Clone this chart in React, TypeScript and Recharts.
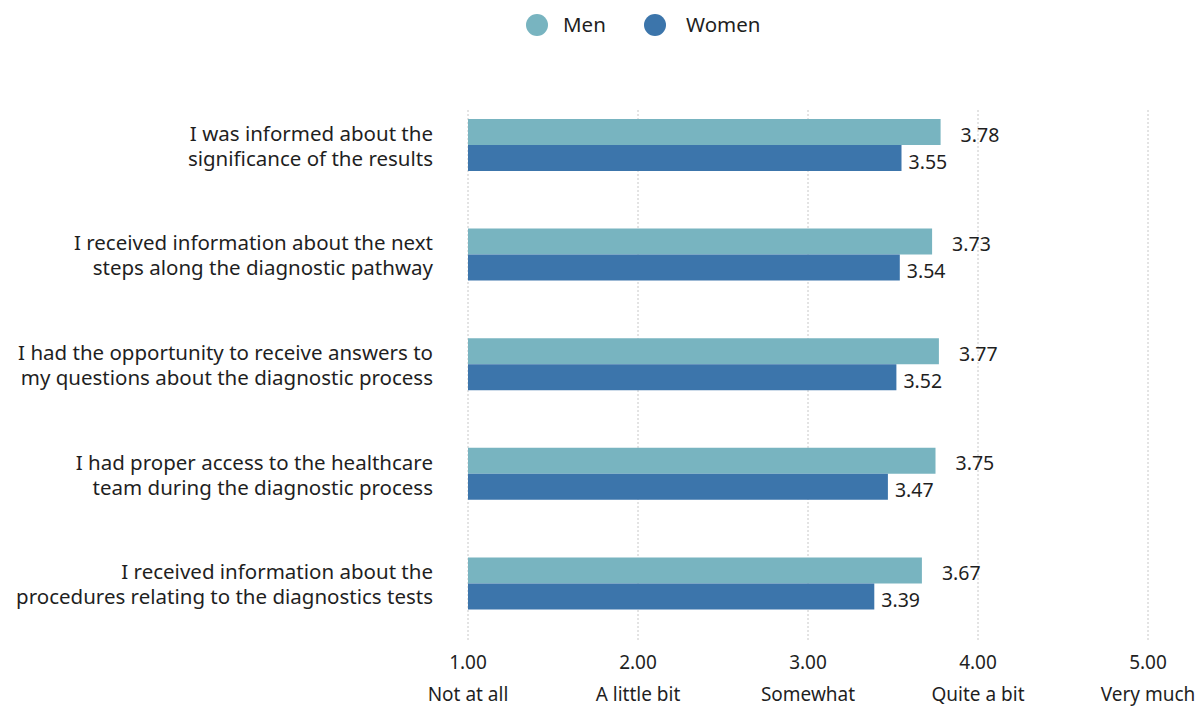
import { BarChart, Bar, XAxis, YAxis, CartesianGrid, Legend, LabelList } from 'recharts';

const questions = [
  ['I was informed about the', 'significance of the results'],
  ['I received information about the next', 'steps along the diagnostic pathway'],
  ['I had the opportunity to receive answers to', 'my questions about the diagnostic process'],
  ['I had proper access to the healthcare', 'team during the diagnostic process'],
  ['I received information about the', 'procedures relating to the diagnostics tests'],
];
const men = [3.78, 3.73, 3.77, 3.75, 3.67];
const women = [3.55, 3.54, 3.52, 3.47, 3.39];
const scaleTicks = [1, 2, 3, 4, 5];
const scaleLabels = ['Not at all', 'A little bit', 'Somewhat', 'Quite a bit', 'Very much'];

const MEN_COLOR = '#78b4c0';
const WOMEN_COLOR = '#3c75ab';
const FONT = '"Noto Sans", sans-serif';
const TEXT = '#1f1f1f';

const data = questions.map((q, i) => ({
  name: q.join('|'),
  men: men[i],
  women: women[i],
}));

const QuestionTick = (props: any) => {
  const { x, y, payload } = props;
  const lines = String(payload.value).split('|');
  return (
    <text x={x} y={y} textAnchor="end" fontFamily={FONT} fontSize={20.5} fill={TEXT}>
      <tspan x={x} dy={-4}>{lines[0]}</tspan>
      <tspan x={x} dy={25}>{lines[1]}</tspan>
    </text>
  );
};

const ScaleTick = (props: any) => {
  const { x, y, payload } = props;
  const idx = scaleTicks.indexOf(payload.value);
  return (
    <g>
      <text x={x} y={y + 31} textAnchor="middle" fontFamily={FONT} fontSize={19} fill={TEXT}>
        {Number(payload.value).toFixed(2)}
      </text>
      <text x={x} y={y + 63} textAnchor="middle" fontFamily={FONT} fontSize={19} fill={TEXT}>
        {scaleLabels[idx]}
      </text>
    </g>
  );
};

// value label drawn a touch below the bar centre, as in the source
const valueLabel = (offset: number, shift: number) => (props: any) => {
  const { x, y, width, height, value } = props;
  return (
    <text
      x={x + width + offset}
      y={y + height / 2 + shift}
      dominantBaseline="central"
      fontFamily={FONT}
      fontSize={19.5}
      fill={TEXT}
    >
      {Number(value).toFixed(2)}
    </text>
  );
};

const LegendContent = () => (
  <svg width={1196} height={50}>
    <circle cx={537} cy={25} r={11} fill={MEN_COLOR} />
    <text x={563} y={32} fontFamily={FONT} fontSize={20.5} fill={TEXT}>Men</text>
    <circle cx={655} cy={25} r={11} fill={WOMEN_COLOR} />
    <text x={686} y={32} fontFamily={FONT} fontSize={20.5} fill={TEXT}>Women</text>
  </svg>
);

export default function App() {
  return (
    <div style={{ position: 'absolute', left: 0, top: 0, background: '#fff' }}>
      <BarChart
        width={1196}
        height={707}
        data={data}
        layout="vertical"
        margin={{ top: 40, right: 48, bottom: 0, left: 8 }}
        barGap={0}
        barSize={26}
      >
        <CartesianGrid
          horizontal={false}
          vertical
          y={110}
          height={530}
          strokeDasharray="2 2"
          stroke="#c8c8c8"
        />
        <XAxis
          type="number"
          domain={[1, 5]}
          ticks={scaleTicks}
          axisLine={false}
          tickLine={false}
          tickSize={0}
          tickMargin={0}
          height={69}
          tick={<ScaleTick />}
          interval={0}
        />
        <YAxis
          type="category"
          dataKey="name"
          width={460}
          axisLine={false}
          tickLine={false}
          tickSize={0}
          tickMargin={35}
          tick={<QuestionTick />}
          interval={0}
        />
        <Legend
          verticalAlign="top"
          content={<LegendContent />}
          wrapperStyle={{ top: 0, left: 0, width: 1196, height: 50 }}
        />
        <Bar dataKey="men" name="Men" fill={MEN_COLOR} isAnimationActive={false}>
          <LabelList dataKey="men" content={valueLabel(20, 2)} />
        </Bar>
        <Bar dataKey="women" name="Women" fill={WOMEN_COLOR} isAnimationActive={false}>
          <LabelList dataKey="women" content={valueLabel(7, 3)} />
        </Bar>
      </BarChart>
    </div>
  );
}
